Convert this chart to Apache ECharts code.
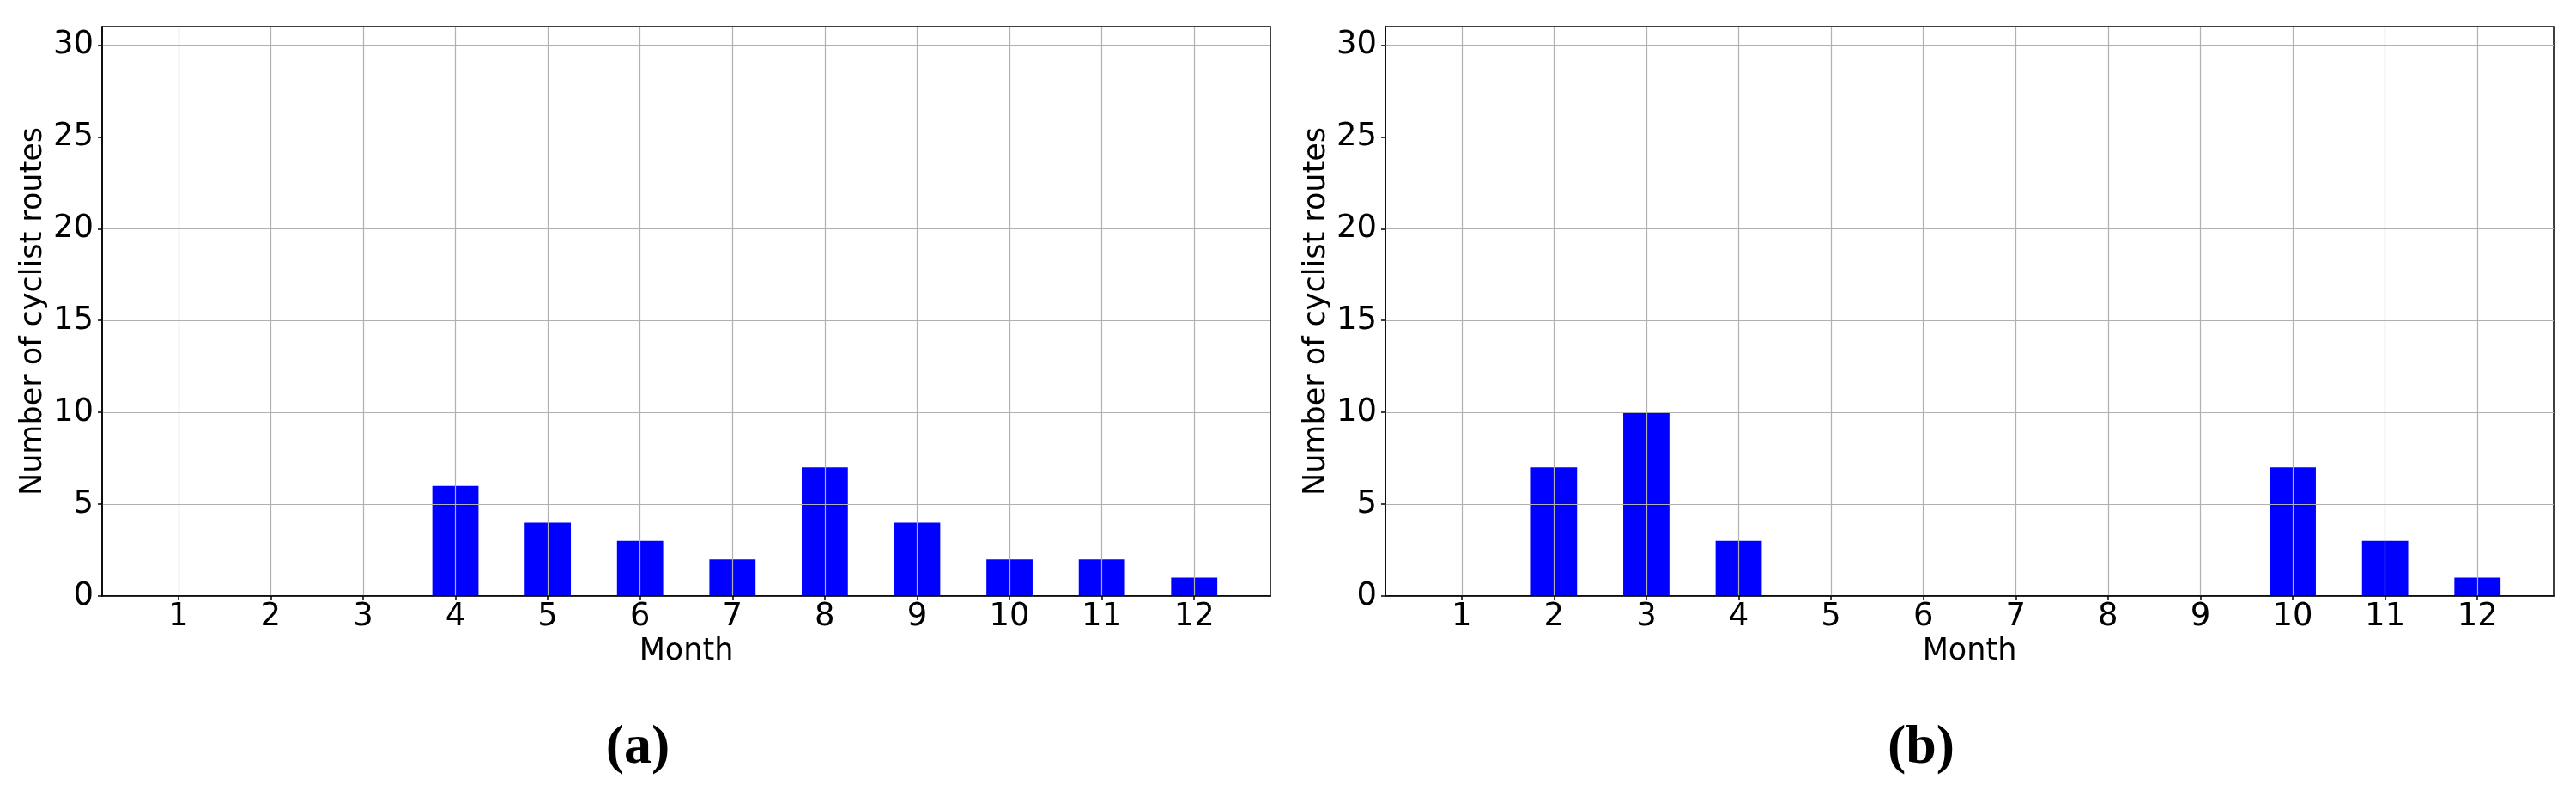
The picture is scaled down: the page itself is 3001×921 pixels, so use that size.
<!DOCTYPE html>
<html>
<head>
<meta charset="utf-8">
<title>Cyclist routes per month</title>
<script src="https://cdn.jsdelivr.net/npm/echarts@6/dist/echarts.min.js"></script>
<style>
  html, body { margin: 0; padding: 0; background: #fff; }
  #main { width: 3001px; height: 921px; }
</style>
</head>
<body>
<div id="main"></div>
<script>
// months on the x axis
const months = [1, 2, 3, 4, 5, 6, 7, 8, 9, 10, 11, 12]
// (a) and (b) routes per month
const routesA = [0, 0, 0, 6, 4, 3, 2, 7, 4, 2, 2, 1]
const routesB = [0, 7, 10, 3, 0, 0, 0, 0, 0, 7, 3, 1]
const yTicks = [0, 5, 10, 15, 20, 25, 30]
const subLabels = ['(a)', '(b)']

const font = 'DejaVu Sans'
const xMin = 0.175
const xMax = 12.825
const gridW = 1361
const gridH = 663
const gridLefts = [119, 1614]
const barW = (gridW / (xMax - xMin)) * 0.5

const chart = echarts.init(document.getElementById('main'))

const xAxisOf = (i) => ({
  type: 'value',
  gridIndex: i,
  min: xMin,
  max: xMax,
  z: 5,
  name: 'Month',
  nameLocation: 'middle',
  nameGap: 45,
  nameTextStyle: { fontFamily: font, fontSize: 35, color: '#000' },
  axisLine: { show: true, onZero: false, lineStyle: { color: '#000', width: 1.5 } },
  axisTick: { show: true, length: 5, customValues: months, lineStyle: { color: '#000', width: 1.5 } },
  axisLabel: {
    customValues: months,
    margin: 6,
    fontFamily: font,
    fontSize: 37,
    color: '#000',
  },
  splitLine: { show: true, lineStyle: { color: '#b0b0b0', width: 1.2 } },
})

const yAxisOf = (i) => ({
  type: 'value',
  gridIndex: i,
  min: 0,
  max: 31,
  z: 5,
  name: 'Number of cyclist routes',
  nameLocation: 'middle',
  nameGap: 63,
  nameTextStyle: { fontFamily: font, fontSize: 35, color: '#000' },
  axisLine: { show: true, lineStyle: { color: '#000', width: 1.5 } },
  axisTick: { show: true, length: 5, customValues: yTicks, lineStyle: { color: '#000', width: 1.5 } },
  axisLabel: {
    customValues: yTicks,
    margin: 10,
    fontFamily: font,
    fontSize: 37,
    color: '#000',
  },
  splitLine: { show: true, lineStyle: { color: '#b0b0b0', width: 1.2 } },
})

// sub-figure captions under each panel
const captionOf = (text, x) => ({
  type: 'text',
  x: x,
  y: 871,
  style: {
    text: text,
    font: 'bold 64px "Liberation Serif"',
    fill: '#000',
    textAlign: 'center',
    textVerticalAlign: 'middle',
  },
})

const option = {
  animation: false,
  backgroundColor: '#fff',
  grid: gridLefts.map((left) => ({
    left: left,
    top: 31,
    width: gridW,
    height: gridH,
    show: true,
    borderColor: '#000',
    borderWidth: 1.5,
    backgroundColor: 'transparent',
  })),
  xAxis: [xAxisOf(0), xAxisOf(1)],
  yAxis: [yAxisOf(0), yAxisOf(1)],
  series: [routesA, routesB].map((vals, i) => ({
    type: 'bar',
    xAxisIndex: i,
    yAxisIndex: i,
    barWidth: barW,
    itemStyle: { color: '#0000ff' },
    data: months.map((m, k) => [m, vals[k]]),
  })),
  graphic: [captionOf(subLabels[0], 743), captionOf(subLabels[1], 2238)],
}

chart.setOption(option)
</script>
</body>
</html>
